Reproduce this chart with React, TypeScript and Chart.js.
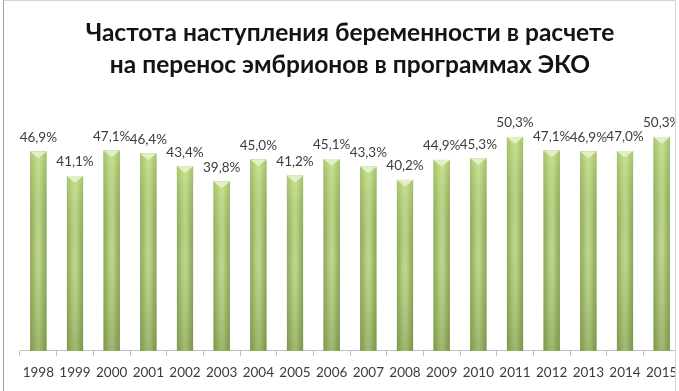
import React, { useEffect, useRef } from "react";
import { Chart, registerables } from "chart.js";

Chart.register(...registerables);

const years = ["1998","1999","2000","2001","2002","2003","2004","2005","2006","2007","2008","2009","2010","2011","2012","2013","2014","2015"];
const rates = [46.9, 41.1, 47.1, 46.4, 43.4, 39.8, 45.0, 41.2, 45.1, 43.3, 40.2, 44.9, 45.3, 50.3, 47.1, 46.9, 47.0, 50.3];
const rateLabels = ["46,9%","41,1%","47,1%","46,4%","43,4%","39,8%","45,0%","41,2%","45,1%","43,3%","40,2%","44,9%","45,3%","50,3%","47,1%","46,9%","47,0%","50,3%"];
const titleLines = ["Частота наступления беременности в расчете", "на перенос эмбрионов в программах ЭКО"];

const FONT = "Lato, 'Open Sans', 'DejaVu Sans', sans-serif";

const barStylePlugin = {
  id: "barStyle",
  afterDatasetsDraw(chart: any) {
    const ctx = chart.ctx;
    const meta = chart.getDatasetMeta(0);
    meta.data.forEach((el: any, i: number) => {
      const p = el.getProps(["x", "y", "base", "width"], true);
      const left = p.x - p.width / 2;
      const right = p.x + p.width / 2;
      const top = p.y;
      const bottom = p.base;
      ctx.save();
      const hg = ctx.createLinearGradient(left, 0, right, 0);
      hg.addColorStop(0, "#8ea95c");
      hg.addColorStop(0.35, "#b9d286");
      hg.addColorStop(0.55, "#c4dc93");
      hg.addColorStop(1, "#8aa558");
      ctx.fillStyle = hg;
      ctx.fillRect(left, top, p.width, bottom - top);
      const vg = ctx.createLinearGradient(0, top, 0, bottom);
      vg.addColorStop(0, "rgba(205,235,140,0.45)");
      vg.addColorStop(0.5, "rgba(120,150,70,0.05)");
      vg.addColorStop(1, "rgba(90,115,45,0.35)");
      ctx.fillStyle = vg;
      ctx.fillRect(left, top, p.width, bottom - top);
      ctx.beginPath();
      ctx.moveTo(left, top);
      ctx.lineTo(right, top);
      ctx.lineTo(p.x + 1, top + 6);
      ctx.lineTo(p.x - 1, top + 6);
      ctx.closePath();
      ctx.fillStyle = "#e3f0c6";
      ctx.fill();
      ctx.restore();
      ctx.save();
      ctx.font = "13.5px " + FONT;
      ctx.fillStyle = "#3c3c3c";
      ctx.textAlign = "center";
      ctx.textBaseline = "middle";
      ctx.fillText(rateLabels[i], p.x, top - 14);
      ctx.restore();
    });
  },
};

export default function App() {
  const ref = useRef<HTMLCanvasElement>(null);
  useEffect(() => {
    if (!ref.current) return;
    const chart = new Chart(ref.current, {
      type: "bar",
      data: {
        labels: years,
        datasets: [
          {
            data: rates,
            backgroundColor: "#a6c36f",
            borderWidth: 0,
            barPercentage: 0.44,
            categoryPercentage: 1,
          },
        ],
      },
      options: {
        responsive: false,
        animation: false,
        layout: { padding: { left: 20, right: 20, top: 0, bottom: 1 } },
        plugins: {
          legend: { display: false },
          tooltip: { enabled: false },
          title: {
            display: true,
            text: titleLines,
            color: "#141414",
            font: { family: FONT, size: 24.5, weight: "bold", lineHeight: 1.3 },
            padding: { top: 17, bottom: 15 },
          },
        },
        scales: {
          y: { display: false, min: 0, max: 60 },
          x: {
            grid: { drawOnChartArea: false, drawTicks: true, tickLength: 5, color: "#bfbfbf", offset: true },
            border: { display: true, color: "#bfbfbf" },
            ticks: { color: "#3c3c3c", font: { family: FONT, size: 13.5 }, padding: 9, maxRotation: 0, autoSkip: false },
          },
        },
      },
      plugins: [barStylePlugin],
    });
    return () => chart.destroy();
  }, []);
  return (
    <div style={{ position: "fixed", left: 0, top: 0, width: 679, height: 391, background: "#fff", overflow: "hidden" }}>
      <div
        style={{
          position: "absolute",
          left: 3,
          top: 0,
          width: 671,
          height: 400,
          borderLeft: "1px solid #a0a0a0",
          borderTop: "1px solid #d4d4d4",
          borderRight: "1px solid #d4d4d4",
          overflow: "hidden",
        }}
      >
        <canvas ref={ref} width={700} height={391} style={{ position: "absolute", left: -4, top: -1, display: "block" }} />
      </div>
    </div>
  );
}
